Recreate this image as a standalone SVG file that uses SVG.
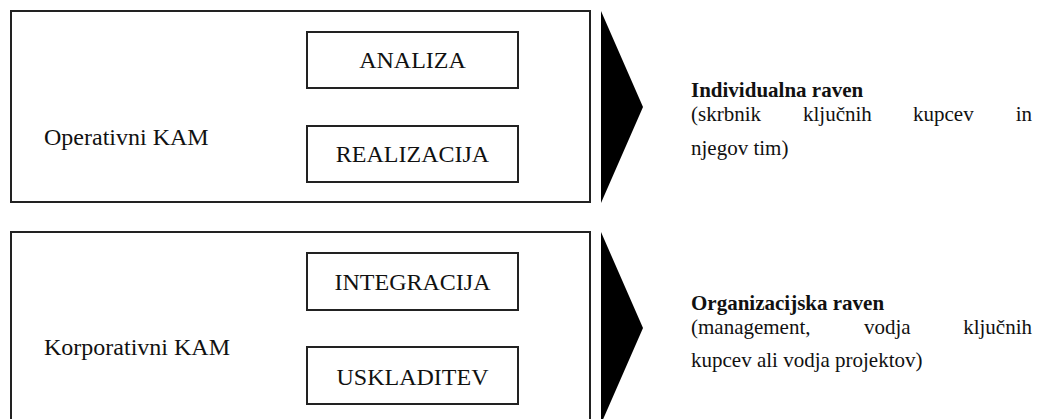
<svg xmlns="http://www.w3.org/2000/svg" width="1054" height="419" viewBox="0 0 1054 419">
<style>
  .outer { fill: #fff; stroke: #222; stroke-width: 2; }
  .inner { fill: #fff; stroke: #222; stroke-width: 2; }
  .arrow { fill: #000; stroke: none; }
  .t { font-family: "Liberation Serif", "Times New Roman", serif; font-size: 21px; fill: #111; }
  .l { font-size: 24px; }
  .b { font-weight: bold; }
  .c { text-anchor: middle; }
</style>
<rect width="1054" height="419" fill="#fff"/>
<g id="operativni">
  <rect class="outer" x="11" y="11" width="579" height="191"/>
  <text class="t l" x="44" y="145">Operativni KAM</text>
</g>
<g id="analiza">
  <rect class="inner" x="307" y="32" width="211" height="56"/>
  <text class="t l c" x="412.5" y="68">ANALIZA</text>
</g>
<g id="realizacija">
  <rect class="inner" x="307" y="126" width="211" height="56"/>
  <text class="t l c" x="412.5" y="162">REALIZACIJA</text>
</g>
<g id="korporativni">
  <path class="outer" d="M11,420 V232 H590 V420"/>
  <text class="t l" x="44" y="355">Korporativni KAM</text>
</g>
<g id="integracija">
  <rect class="inner" x="307" y="253" width="211" height="57"/>
  <text class="t l c" x="412.5" y="290">INTEGRACIJA</text>
</g>
<g id="uskladitev">
  <rect class="inner" x="307" y="347" width="211" height="57"/>
  <text class="t l c" x="412.5" y="385">USKLADITEV</text>
</g>
<g id="connectors">
  <polygon class="arrow" points="601,11 643,107 601,203"/>
  <polygon class="arrow" points="601,232 643,328 601,424"/>
</g>
<g id="individualna">
  <text class="t b" x="691" y="97">Individualna raven</text>
  <text class="t" y="121"><tspan x="691">(skrbnik</tspan><tspan x="803">ključnih</tspan><tspan x="913">kupcev</tspan><tspan x="1032" text-anchor="end">in</tspan></text>
  <text class="t" x="691" y="155">njegov tim)</text>
</g>
<g id="organizacijska">
  <text class="t b" x="691" y="310">Organizacijska raven</text>
  <text class="t" y="334"><tspan x="691">(management,</tspan><tspan x="864">vodja</tspan><tspan x="1032" text-anchor="end">ključnih</tspan></text>
  <text class="t" x="691" y="367">kupcev ali vodja projektov)</text>
</g>
</svg>
